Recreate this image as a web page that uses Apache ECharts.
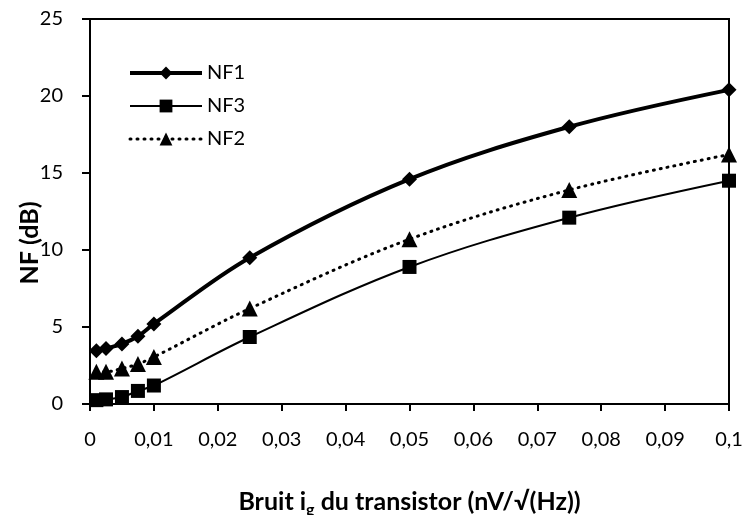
<!DOCTYPE html>
<html>
<head>
<meta charset="utf-8">
<script src="https://cdn.jsdelivr.net/npm/echarts@6/dist/echarts.min.js"></script>
<style>html,body{margin:0;padding:0;background:#fff}#c{width:745px;height:515px}</style>
</head>
<body>
<div id="c"></div>
<script>
var xValues = [0.001, 0.0025, 0.005, 0.0075, 0.01, 0.025, 0.05, 0.075, 0.1];
var nf1 = [3.45, 3.6, 3.9, 4.4, 5.2, 9.5, 14.6, 18.0, 20.4];
var nf3 = [0.25, 0.3, 0.45, 0.85, 1.2, 4.35, 8.9, 12.1, 14.5];
var nf2 = [2.1, 2.1, 2.3, 2.6, 3.05, 6.2, 10.7, 13.9, 16.2];
var xTickLabels = ['0','0,01','0,02','0,03','0,04','0,05','0,06','0,07','0,08','0,09','0,1'];
var yTickLabels = ['0','5','10','15','20','25'];
var yTitle = 'NF (dB)';

function pairs(ys){ return xValues.map(function(x,i){ return [x, ys[i]]; }); }
var font = 'Lato, "Open Sans", sans-serif';
var chart = echarts.init(document.getElementById('c'), null, {renderer:'canvas'});
chart.setOption({
  animation: false,
  backgroundColor: '#fff',
  grid: {left: 90, right: 16, top: 19, bottom: 111, show: true, borderColor: '#000', borderWidth: 2,
         containLabel: false, outerBoundsMode: 'none'},
  legend: {
    orient: 'vertical', left: 123, top: 58, itemWidth: 72, itemHeight: 16, itemGap: 13,
    textStyle: {fontFamily: font, fontSize: 20, color: '#000'},
    data: [
      {name: 'NF1', lineStyle: {width: 4}},
      {name: 'NF3', lineStyle: {width: 2}},
      {name: 'NF2', lineStyle: {width: 3, type: [1, 6], cap: 'round'}}
    ]
  },
  graphic: [{
    type: 'text', x: 30, y: 243, rotation: Math.PI / 2,
    style: {text: yTitle, fontFamily: font, fontSize: 25, fontWeight: 'bold', fill: '#000',
            align: 'center', verticalAlign: 'middle'}
  }],
  xAxis: {
    type: 'value', min: 0, max: 0.1, interval: 0.01,
    axisLine: {show: true, lineStyle: {color: '#000', width: 2}},
    axisTick: {show: true, inside: false, length: 7, lineStyle: {color: '#000', width: 2}},
    splitLine: {show: false},
    axisLabel: {fontFamily: font, fontSize: 20, color: '#000', margin: 26,
      formatter: function(v){ return xTickLabels[Math.round(v*100)]; }},
    name: '{a|Bruit i}{s|g}{a| du transistor (nV/√(Hz))}',
    nameLocation: 'middle', nameGap: 82,
    nameTextStyle: {rich: {
      a: {fontFamily: font, fontSize: 25, fontWeight: 'bold', color: '#000'},
      s: {fontFamily: font, fontSize: 16, fontWeight: 'bold', color: '#000', padding: [16,0,0,0]}
    }}
  },
  yAxis: {
    type: 'value', min: 0, max: 25, interval: 5,
    axisLine: {show: true, lineStyle: {color: '#000', width: 2}},
    axisTick: {show: true, inside: false, length: 8, lineStyle: {color: '#000', width: 2}},
    splitLine: {show: false},
    axisLabel: {fontFamily: font, fontSize: 20, color: '#000', margin: 27,
      formatter: function(v){ return yTickLabels[Math.round(v/5)]; }}
  },
  series: [
    {name: 'NF1', type: 'line', data: pairs(nf1), smooth: 0.35,
     symbol: 'diamond', symbolSize: 15, itemStyle: {color: '#000'},
     lineStyle: {color: '#000', width: 4}},
    {name: 'NF3', type: 'line', data: pairs(nf3), smooth: 0.35,
     symbol: 'rect', symbolSize: 14, itemStyle: {color: '#000'},
     lineStyle: {color: '#000', width: 2}},
    {name: 'NF2', type: 'line', data: pairs(nf2), smooth: 0.35,
     symbol: 'triangle', symbolSize: 16, itemStyle: {color: '#000'},
     lineStyle: {color: '#000', width: 3, type: [1, 6], cap: 'round'}}
  ]
});
</script>
</body>
</html>
